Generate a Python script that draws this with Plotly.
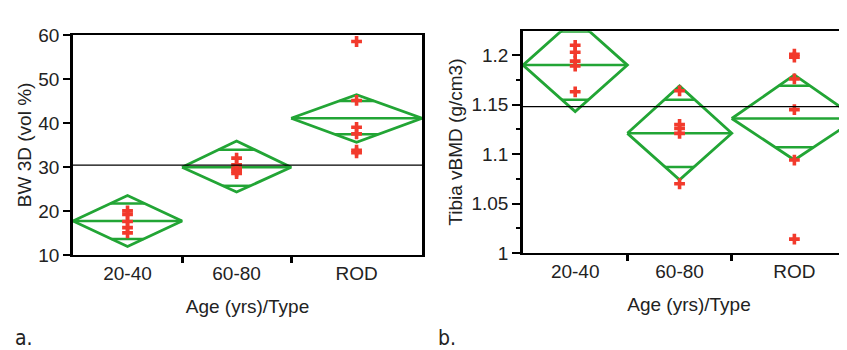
import plotly.graph_objects as go

# ---------------- data ----------------
categories = ["20-40", "60-80", "ROD"]
group_n = [5, 5, 6]

# Panel a: BW 3D (vol %)
bw_points = [
    [20.0, 19.2, 17.6, 16.2, 15.0],
    [32.0, 30.5, 29.6, 29.0, 28.5],
    [58.5, 45.1, 39.0, 37.5, 33.8, 33.2],
]
bw_mean = [17.7, 29.9, 41.05]
bw_ci_lo = [11.9, 24.3, 35.6]
bw_ci_hi = [23.5, 35.9, 46.4]
bw_ov_lo = [13.6, 25.7, 37.4]
bw_ov_hi = [21.7, 33.9, 45.0]
bw_grand = 30.4
bw_yticks = [10, 20, 30, 40, 50, 60]

# Panel b: Tibia vBMD (g/cm3)
vb_points = [
    [1.210, 1.203, 1.194, 1.189, 1.163],
    [1.164, 1.130, 1.126, 1.121, 1.070],
    [1.201, 1.198, 1.176, 1.145, 1.094, 1.014],
]
vb_mean = [1.190, 1.121, 1.136]
vb_ci_lo = [1.143, 1.074, 1.094]
vb_ci_hi = [1.237, 1.169, 1.180]
vb_ov_lo = [1.155, 1.087, 1.107]
vb_ov_hi = [1.224, 1.155, 1.169]
vb_grand = 1.148
vb_yticks = [1, 1.05, 1.1, 1.15, 1.2]
vb_yticktext = ["1", "1.05", "1.1", "1.15", "1.2"]

GREEN = "#22a535"
RED = "#f23a2c"
FONT = "Liberation Sans, Arial, sans-serif"

# group boundaries from sample sizes
bounds = [0]
for n in group_n:
    bounds.append(bounds[-1] + n)
centers = [(bounds[i] + bounds[i + 1]) / 2 for i in range(len(group_n))]

fig = go.Figure()


def add_panel(xa, ya, pts, mean, lo, hi, olo, ohi, grand):
    for i in range(len(categories)):
        L, R, C = bounds[i], bounds[i + 1], centers[i]
        half = (R - L) / 2
        # diamond
        fig.add_trace(go.Scatter(
            x=[L, C, R, C, L], y=[mean[i], hi[i], mean[i], lo[i], mean[i]],
            mode="lines", line=dict(color=GREEN, width=2.8),
            xaxis=xa, yaxis=ya, showlegend=False, hoverinfo="skip"))
        # mean line
        fig.add_trace(go.Scatter(
            x=[L, R], y=[mean[i], mean[i]], mode="lines",
            line=dict(color=GREEN, width=2.5),
            xaxis=xa, yaxis=ya, showlegend=False, hoverinfo="skip"))
        # overlap marks
        for ov, ext in ((ohi[i], hi[i]), (olo[i], lo[i])):
            frac = 1 - abs(ov - mean[i]) / abs(ext - mean[i])
            w = half * frac
            fig.add_trace(go.Scatter(
                x=[C - w, C + w], y=[ov, ov], mode="lines",
                line=dict(color=GREEN, width=2.5),
                xaxis=xa, yaxis=ya, showlegend=False, hoverinfo="skip"))
        # points
        fig.add_trace(go.Scatter(
            x=[C] * len(pts[i]), y=pts[i], mode="markers",
            marker=dict(symbol="cross", size=9, color=RED),
            xaxis=xa, yaxis=ya, showlegend=False))
    # grand mean
    fig.add_trace(go.Scatter(
        x=[bounds[0], bounds[-1]], y=[grand, grand], mode="lines",
        line=dict(color="black", width=1.3),
        xaxis=xa, yaxis=ya, showlegend=False, hoverinfo="skip"))


add_panel("x", "y", bw_points, bw_mean, bw_ci_lo, bw_ci_hi, bw_ov_lo, bw_ov_hi, bw_grand)
add_panel("x2", "y2", vb_points, vb_mean, vb_ci_lo, vb_ci_hi, vb_ov_lo, vb_ov_hi, vb_grand)

W, H = 847, 350
ldom = [65 / W, 414 / W]
rdom = [515 / W, 1.0]
ly = [1 - 252 / H, 1 - 18 / H]
ry = [1 - 250 / H, 1 - 14 / H]
xr_left = [bounds[0], bounds[-1]]
xr_right = [bounds[0], bounds[-1] * 332 / 334]

tickfont = dict(family=FONT, size=19, color="#222")
titlefont = dict(family=FONT, size=19, color="#222")

common_x = dict(showline=True, linecolor="black", linewidth=2, mirror=True,
                showgrid=False, zeroline=False, tickvals=centers, ticktext=categories,
                ticks="", tickfont=tickfont,
                title=dict(text="Age (yrs)/Type", font=titlefont, standoff=17))
tick_x = dict(showline=False, showgrid=False, zeroline=False, tickvals=bounds[1:-1],
              ticks="outside", ticklen=7, tickwidth=3, tickcolor="black",
              showticklabels=False)

fig.update_layout(
    width=W, height=H, margin=dict(l=0, r=0, t=0, b=0),
    plot_bgcolor="white", paper_bgcolor="white",
    font=dict(family=FONT, color="#222"),
    xaxis=dict(domain=ldom, range=xr_left, anchor="y", **common_x),
    yaxis=dict(domain=ly, range=[10, 60], anchor="x", tickvals=bw_yticks,
               showline=True, linecolor="black", linewidth=2.5, mirror=True,
               showgrid=False, zeroline=False, ticks="outside", ticklen=7, tickwidth=2,
               tickcolor="black", tickfont=tickfont,
               title=dict(text="BW 3D (vol %)", font=titlefont, standoff=2)),
    xaxis2=dict(domain=rdom, range=xr_right, anchor="y2", **common_x),
    yaxis2=dict(domain=ry, range=[1.0, 1.2243], anchor="x2", tickvals=vb_yticks,
                ticktext=vb_yticktext,
                showline=True, linecolor="black", linewidth=2.5, mirror=False,
                showgrid=False, zeroline=False, ticks="outside", ticklen=8, tickwidth=2,
                tickcolor="black", tickfont=tickfont,
                minor=dict(tickvals=[1.025, 1.075, 1.125, 1.175], ticks="outside",
                           ticklen=4, tickwidth=2, tickcolor="black"),
                title=dict(text="Tibia vBMD (g/cm3)", font=titlefont, standoff=4)),
    xaxis3=dict(domain=ldom, range=xr_left, anchor="y", overlaying="x", **tick_x),
    xaxis4=dict(domain=rdom, range=xr_right, anchor="y2", overlaying="x2", **tick_x),
    annotations=[
        dict(text="a.", x=5 / W, y=1 - 340 / H, xref="paper", yref="paper",
             xanchor="left", yanchor="middle", showarrow=False,
             font=dict(family="Liberation Sans Narrow, DejaVu Sans Condensed, sans-serif",
                       size=21, color="#222")),
        dict(text="b.", x=428 / W, y=1 - 340 / H, xref="paper", yref="paper",
             xanchor="left", yanchor="middle", showarrow=False,
             font=dict(family="Liberation Sans Narrow, DejaVu Sans Condensed, sans-serif",
                       size=21, color="#222")),
    ],
)

# invisible anchor traces so overlay tick axes render
fig.add_trace(go.Scatter(x=[bounds[0]], y=[bw_grand], xaxis="x3", yaxis="y",
                         mode="markers", marker=dict(opacity=0), showlegend=False,
                         hoverinfo="skip"))
fig.add_trace(go.Scatter(x=[bounds[0]], y=[vb_grand], xaxis="x4", yaxis="y2",
                         mode="markers", marker=dict(opacity=0), showlegend=False,
                         hoverinfo="skip"))

fig.write_html("out.html")
